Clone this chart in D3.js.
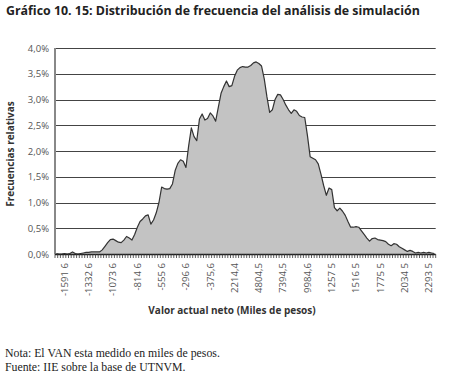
<!DOCTYPE html>
<html>
<head>
<meta charset="utf-8">
<script src="https://cdn.jsdelivr.net/npm/d3@7"></script>
<style>
  body { margin: 0; background: #fff; }
  svg { display: block; }
</style>
</head>
<body>
<script>
// frecuencias relativas (%) por clase
var freq = [
  0.01, 0.00, 0.00, 0.01, 0.00, 0.01, 0.04, 0.01, 0.00, 0.01,
  0.02, 0.03, 0.03, 0.04, 0.04, 0.04, 0.04, 0.08, 0.15, 0.22,
  0.28, 0.29, 0.26, 0.23, 0.22, 0.27, 0.34, 0.31, 0.27, 0.38,
  0.52, 0.63, 0.68, 0.74, 0.76, 0.58, 0.66, 0.80, 1.00, 1.30,
  1.27, 1.26, 1.27, 1.36, 1.62, 1.76, 1.83, 1.80, 1.68, 2.10,
  2.45, 2.28, 2.20, 2.62, 2.72, 2.60, 2.63, 2.74, 2.68, 2.58,
  2.85, 3.12, 3.25, 3.36, 3.25, 3.27, 3.45, 3.57, 3.62, 3.64,
  3.63, 3.63, 3.66, 3.71, 3.73, 3.70, 3.65, 3.40, 3.05, 2.75,
  2.80, 3.00, 3.10, 3.09, 3.00, 2.89, 2.80, 2.73, 2.80, 2.77,
  2.69, 2.66, 2.65, 2.30, 1.89, 1.86, 1.83, 1.75, 1.55, 1.33,
  1.14, 1.28, 1.25, 0.90, 0.84, 0.89, 0.83, 0.75, 0.63, 0.52,
  0.52, 0.53, 0.52, 0.45, 0.38, 0.31, 0.25, 0.30, 0.31, 0.28,
  0.27, 0.26, 0.24, 0.19, 0.16, 0.20, 0.19, 0.14, 0.11, 0.08,
  0.05, 0.07, 0.05, 0.02, 0.03, 0.02, 0.03, 0.02, 0.03, 0.02,
  0.01
];
var classes = d3.range(freq.length);

// etiquetas del eje x (tal como aparecen), una cada 9 clases desde la 3
var xLabels = ["-1591 6", "-1332 6", "-1073 6", "-814 6", "-555 6", "-296 6",
  "-375,6", "2214,4", "4804,5", "7394,5", "9984,6", "1257 5", "1516 5",
  "1775 5", "2034 5", "2293 5"];
var labelClasses = [3, 12, 21, 30, 39, 48, 57, 66, 75, 84, 93, 102, 111, 120, 129, 138];

var yTicks = [0, 0.5, 1, 1.5, 2, 2.5, 3, 3.5, 4];

var width = 450, height = 385;
var plotL = 55, plotR = 435.7, plotT = 48, plotB = 254;

var svg = d3.select("body").append("svg")
  .attr("width", width)
  .attr("height", height);

var x = d3.scaleBand().domain(classes).range([plotL, plotR]).paddingInner(0).paddingOuter(0);
var y = d3.scaleLinear().domain([0, 4]).range([plotB, plotT]);

// titulo
svg.append("text")
  .attr("x", 6).attr("y", 15)
  .attr("font-family", "Open Sans, sans-serif")
  .attr("font-weight", "bold")
  .attr("font-size", 12.4)
  .attr("fill", "#222")
  .text("Gráfico 10. 15: Distribución de frecuencia del análisis de simulación");

// grilla
svg.append("g").selectAll("line")
  .data(yTicks.filter(function(d) { return d > 0; }))
  .enter().append("line")
  .attr("x1", plotL).attr("x2", plotR)
  .attr("y1", function(d) { return Math.round(y(d)) + 0.5; })
  .attr("y2", function(d) { return Math.round(y(d)) + 0.5; })
  .attr("stroke", "#444")
  .attr("stroke-width", 1);

// area
var area = d3.area()
  .x(function(d, i) { return x(i) + x.bandwidth() / 2; })
  .y0(plotB)
  .y1(function(d) { return y(d); });

svg.append("path")
  .datum(freq)
  .attr("d", area)
  .attr("fill", "#c3c3c3")
  .attr("stroke", "none");

var line = d3.line()
  .x(function(d, i) { return x(i) + x.bandwidth() / 2; })
  .y(function(d) { return y(d); });

svg.append("path")
  .datum(freq)
  .attr("d", line)
  .attr("fill", "none")
  .attr("stroke", "#333")
  .attr("stroke-width", 1.2)
  .attr("stroke-linejoin", "round");

// eje y
svg.append("line")
  .attr("x1", plotL).attr("x2", plotL)
  .attr("y1", plotT).attr("y2", plotB)
  .attr("stroke", "#888").attr("stroke-width", 2);

svg.append("g").selectAll("text")
  .data(yTicks)
  .enter().append("text")
  .attr("x", plotL - 6)
  .attr("y", function(d) { return y(d) + 3.5; })
  .attr("text-anchor", "end")
  .attr("font-family", "Open Sans, sans-serif")
  .attr("font-size", 9.5)
  .attr("fill", "#555")
  .text(function(d) { return d3.format(".1f")(d).replace(".", ",") + "%"; });

svg.append("text")
  .attr("transform", "translate(14," + ((plotT + plotB) / 2 + 3) + ") rotate(-90)")
  .attr("text-anchor", "middle")
  .attr("font-family", "Open Sans, sans-serif")
  .attr("font-weight", "bold")
  .attr("font-size", 10)
  .attr("fill", "#333")
  .text("Frecuencias relativas");

// eje x
svg.append("line")
  .attr("x1", plotL).attr("x2", plotR)
  .attr("y1", plotB + 0.5).attr("y2", plotB + 0.5)
  .attr("stroke", "#222").attr("stroke-width", 1.3);

svg.append("g").selectAll("line")
  .data(classes.concat([freq.length]))
  .enter().append("line")
  .attr("x1", function(d) { return d < freq.length ? x(d) : plotR; })
  .attr("x2", function(d) { return d < freq.length ? x(d) : plotR; })
  .attr("y1", plotB).attr("y2", plotB + 4)
  .attr("stroke", "#333").attr("stroke-width", 0.8);

svg.append("g").selectAll("text")
  .data(xLabels)
  .enter().append("text")
  .attr("transform", function(d, i) {
    return "translate(" + (x(labelClasses[i]) + x.bandwidth() / 2 + 3.3) + "," + (plotB + 9) + ") rotate(-90)";
  })
  .attr("text-anchor", "end")
  .attr("font-family", "Open Sans, sans-serif")
  .attr("font-size", 9.6)
  .attr("fill", "#555")
  .text(function(d) { return d; });

svg.append("text")
  .attr("x", 232).attr("y", 314)
  .attr("text-anchor", "middle")
  .attr("font-family", "Open Sans, sans-serif")
  .attr("font-weight", "bold")
  .attr("font-size", 10)
  .attr("fill", "#333")
  .text("Valor actual neto (Miles de pesos)");

// notas
svg.append("text")
  .attr("x", 5).attr("y", 357)
  .attr("font-family", "Liberation Serif, serif")
  .attr("font-size", 11.8)
  .attr("fill", "#222")
  .text("Nota: El VAN esta medido en miles de pesos.");

svg.append("text")
  .attr("x", 5).attr("y", 371)
  .attr("font-family", "Liberation Serif, serif")
  .attr("font-size", 11.8)
  .attr("fill", "#222")
  .text("Fuente: IIE sobre la base de UTNVM.");
</script>
</body>
</html>
